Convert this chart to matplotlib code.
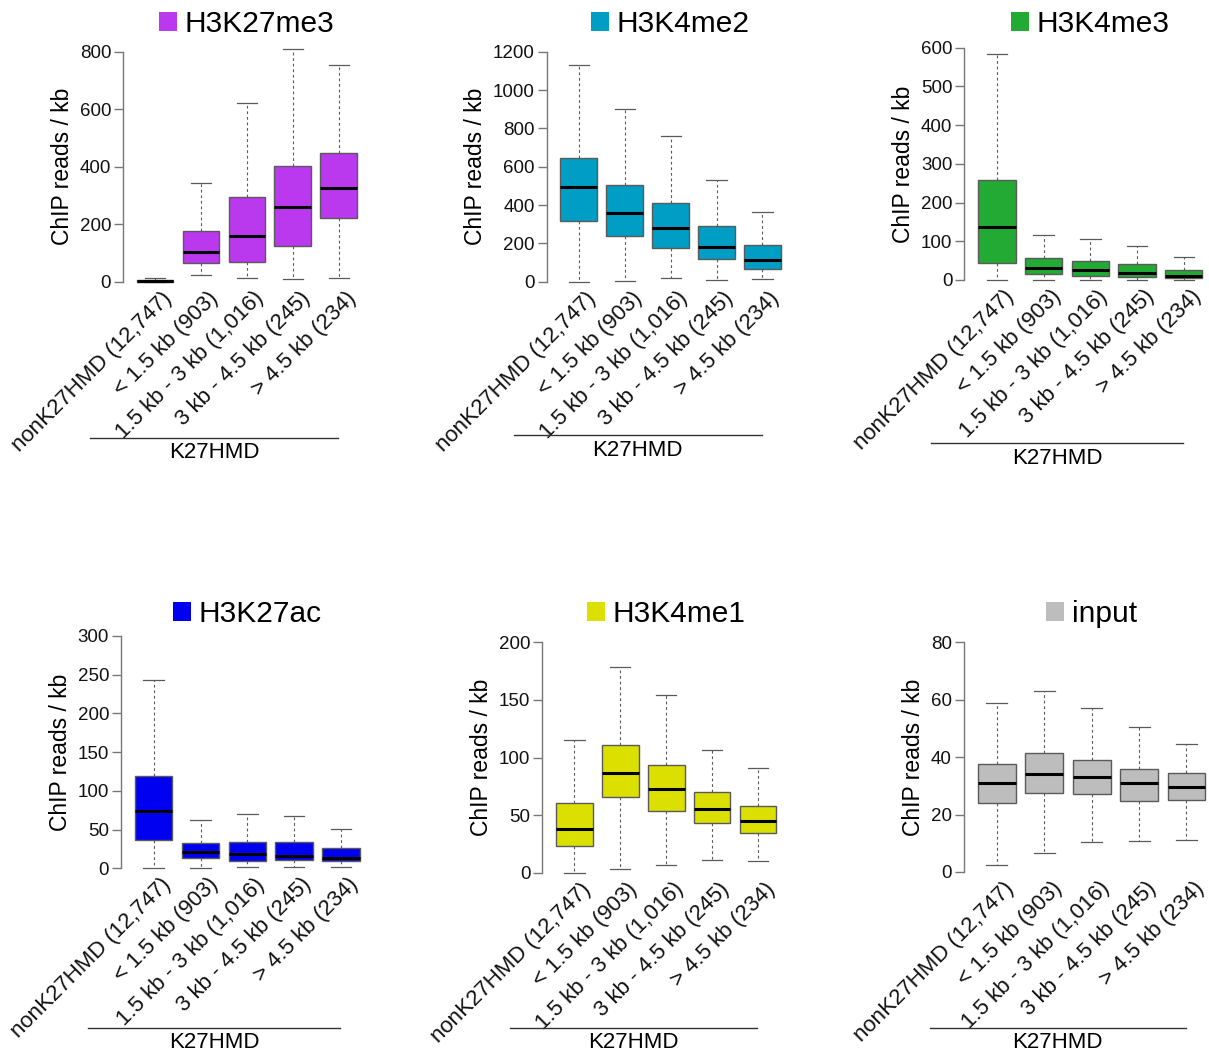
import matplotlib
matplotlib.use("Agg")
import matplotlib.pyplot as plt
from matplotlib.patches import Patch
from matplotlib.lines import Line2D
import matplotlib.transforms as mtransforms

plt.rcParams['font.family'] = ['Liberation Sans', 'DejaVu Sans']

categories = ["nonK27HMD (12,747)", "< 1.5 kb (903)", "1.5 kb - 3 kb (1,016)",
              "3 kb - 4.5 kb (245)", "> 4.5 kb (234)"]
group_label = "K27HMD"
ylabel = "ChIP reads / kb"

marks = ["H3K27me3", "H3K4me2", "H3K4me3", "H3K27ac", "H3K4me1", "input"]
colors = ["#BA38EE", "#009DC4", "#22AA35", "#0000F0", "#DBE000", "#BDBDBD"]
yticks_top = [800, 1200, 600, 300, 200, 80]
ytick_step = [200, 200, 100, 50, 50, 20]

# five-number summaries per category: lower whisker, Q1, median, Q3, upper whisker
h3k27me3_lo = [0, 23, 13, 9, 12]
h3k27me3_q1 = [0, 64, 70, 125, 223]
h3k27me3_med = [3, 102, 159, 259, 325]
h3k27me3_q3 = [6, 176, 293, 401, 449]
h3k27me3_hi = [14, 342, 620, 810, 752]

h3k4me2_lo = [0, 3, 17, 9, 12]
h3k4me2_q1 = [318, 238, 177, 118, 68]
h3k4me2_med = [494, 360, 280, 183, 115]
h3k4me2_q3 = [643, 504, 410, 292, 193]
h3k4me2_hi = [1129, 901, 760, 532, 363]

h3k4me3_lo = [0, 0, 0, 0, 0]
h3k4me3_q1 = [43, 15.5, 10, 8, 4]
h3k4me3_med = [136, 31, 25, 18, 9.5]
h3k4me3_q3 = [258, 56, 49, 42, 27]
h3k4me3_hi = [584, 115, 107, 88, 58.5]

h3k27ac_lo = [0, 0, 1.3, 1.7, 1.7]
h3k27ac_q1 = [36.6, 12.9, 10, 10.3, 9]
h3k27ac_med = [74.5, 20.7, 18, 16.4, 13.8]
h3k27ac_q3 = [119.7, 32.7, 34, 33.6, 26.7]
h3k27ac_hi = [243.6, 62.8, 70, 68, 51]

h3k4me1_lo = [0, 2.9, 6.4, 11.3, 9.8]
h3k4me1_q1 = [23.2, 65.7, 53.5, 43.4, 34.2]
h3k4me1_med = [38.2, 86.3, 72.9, 55.3, 45.2]
h3k4me1_q3 = [60.2, 111, 93.2, 69.8, 57.9]
h3k4me1_hi = [115.5, 178.6, 154, 106.5, 91.2]

input_lo = [2.6, 6.6, 10.3, 10.8, 11]
input_q1 = [23.9, 27.5, 27.2, 24.7, 25]
input_med = [30.9, 34.3, 33.1, 31, 29.5]
input_q3 = [37.7, 41.6, 39.1, 36, 34.4]
input_hi = [58.9, 63, 57.2, 50.5, 44.7]

summaries = [
    (h3k27me3_lo, h3k27me3_q1, h3k27me3_med, h3k27me3_q3, h3k27me3_hi),
    (h3k4me2_lo, h3k4me2_q1, h3k4me2_med, h3k4me2_q3, h3k4me2_hi),
    (h3k4me3_lo, h3k4me3_q1, h3k4me3_med, h3k4me3_q3, h3k4me3_hi),
    (h3k27ac_lo, h3k27ac_q1, h3k27ac_med, h3k27ac_q3, h3k27ac_hi),
    (h3k4me1_lo, h3k4me1_q1, h3k4me1_med, h3k4me1_q3, h3k4me1_hi),
    (input_lo, input_q1, input_med, input_q3, input_hi),
]

# layout in pixels: spine x, pixel of y=0, pixel of top tick, box spacing,
# title centre y, bracket line y, group label y
layout = [
    (123.0, 281.7, 51.7, 45.9, 24, 437.5, 453),
    (546.7, 281.7, 51.7, 45.9, 24, 435.0, 451),
    (964.3, 280.0, 47.7, 46.7, 24, 443.0, 459),
    (121.0, 868.3, 636.0, 46.8, 614, 1027.5, 1043),
    (542.3, 872.7, 642.3, 45.9, 614, 1027.5, 1043),
    (963.7, 872.0, 642.3, 47.4, 614, 1027.5, 1043),
]

W, H = 1209, 1057
fig = plt.figure(figsize=(W / 100, H / 100), dpi=100)

edge = "#5a5a5a"
for k in range(6):
    sx, y0, y1, sp, ty, ly, gy = layout[k]
    top = yticks_top[k]
    pad = 0.04
    axw = 5.4 * sp
    axh = (y0 - y1) * (1 + 2 * pad)
    bottom_px = y0 + (y0 - y1) * pad
    ax = fig.add_axes([sx / W, 1 - bottom_px / H, axw / W, axh / H])
    ax.set_xlim(0.3, 5.7)
    ax.set_ylim(-pad * top, top * (1 + pad))

    lo, q1, med, q3, hi = summaries[k]
    stats = [dict(whislo=lo[i], q1=q1[i], med=med[i], q3=q3[i], whishi=hi[i], fliers=[])
             for i in range(5)]
    ax.bxp(stats, positions=range(1, 6), widths=0.8, capwidths=0.44, patch_artist=True,
           showfliers=False,
           boxprops=dict(facecolor=colors[k], edgecolor=edge, linewidth=1.0),
           medianprops=dict(color="black", linewidth=2.2, solid_capstyle="butt"),
           whiskerprops=dict(color=edge, linewidth=0.8, linestyle=(0, (2.5, 2.5))),
           capprops=dict(color=edge, linewidth=0.9))

    for s in ["top", "right", "bottom"]:
        ax.spines[s].set_visible(False)
    ax.spines["left"].set_color("#777777")
    ax.spines["left"].set_linewidth(1.0)
    ax.spines["left"].set_bounds(0, top)
    ticks = list(range(0, top + 1, ytick_step[k]))
    ax.set_yticks(ticks)
    ax.set_yticklabels([str(t) for t in ticks])
    ax.tick_params(axis="y", direction="out", length=6.5, width=1.0, color="#777777",
                   labelsize=13.5, pad=2, labelcolor="#111111")
    ax.set_xticks([])
    ax.set_ylabel(ylabel, fontsize=16.5, labelpad=4)
    ax.patch.set_visible(False)

    trans = mtransforms.blended_transform_factory(ax.transData, ax.transAxes) + \
        mtransforms.ScaledTranslation(0, -4 / 100, fig.dpi_scale_trans)
    for i, lab in enumerate(categories):
        ax.text(i + 1 + 0.3, 0, lab, transform=trans, rotation=45, ha="right", va="center",
                rotation_mode="anchor", fontsize=16, color="#111111")

    # bracket
    xa = sx + (-0.41 - 0.3) * sp
    xb = sx + (4.98 - 0.3) * sp
    fig.add_artist(Line2D([xa / W, xb / W], [1 - ly / H, 1 - ly / H], color="#333333",
                          linewidth=1.0, transform=fig.transFigure))
    fig.text((xa + xb) / 2 / W, 1 - gy / H, group_label, ha="center", va="center", fontsize=16)

    # title as legend
    cx = sx + 2.7 * sp
    fig.legend(handles=[Patch(facecolor=colors[k], edgecolor="none")], labels=[marks[k]],
               loc="center", bbox_to_anchor=(cx / W, 1 - ty / H), frameon=False,
               fontsize=21.5, handlelength=0.6, handleheight=0.6, handletextpad=0.25,
               borderpad=0, borderaxespad=0)

fig.savefig("out.png", dpi=100)
